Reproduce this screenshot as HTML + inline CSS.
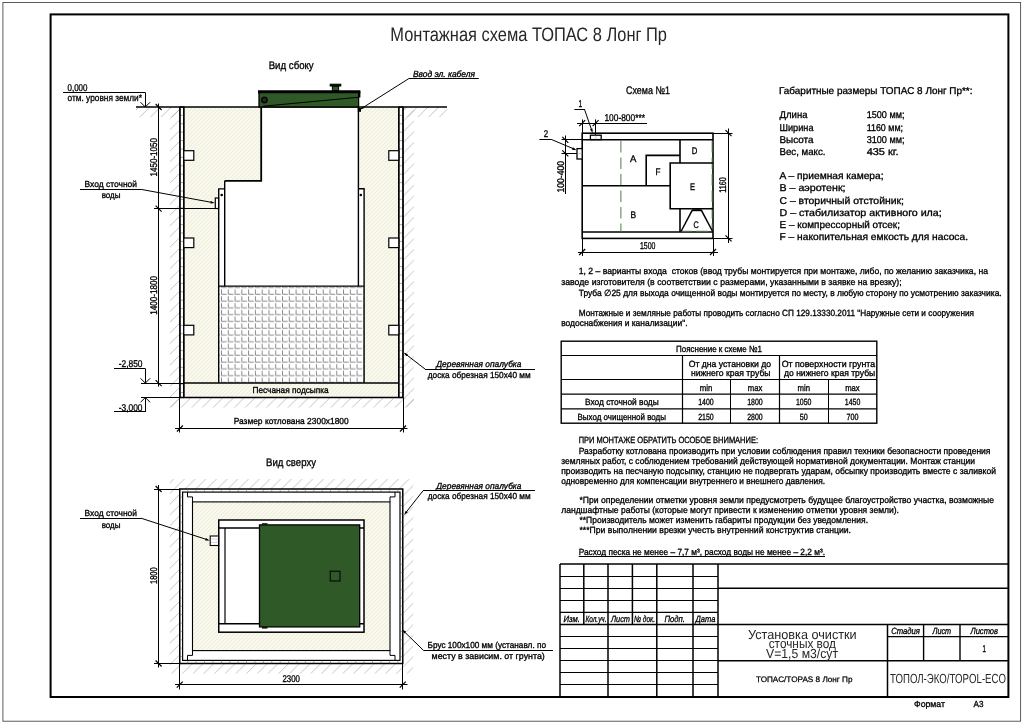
<!DOCTYPE html>
<html lang="ru"><head><meta charset="utf-8"><title>Монтажная схема ТОПАС 8 Лонг Пр</title>
<style>
html,body{margin:0;padding:0;background:#fff;}
body{width:1024px;height:723px;overflow:hidden;}
svg{display:block;font-family:'Liberation Sans', sans-serif;text-rendering:geometricPrecision;will-change:transform;}
text{stroke:#000;stroke-width:0.32px;}
text.lt{stroke:none;}
text.md{stroke-width:0.25px;}
</style></head><body>
<svg width="1024" height="723" viewBox="0 0 1024 723">
<defs>
<pattern id="sand" width="4" height="4" patternUnits="userSpaceOnUse">
<rect width="4" height="4" fill="#fbfaf2"/>
<path d="M-1,1 L1,-1 M0,4 L4,0 M3,5 L5,3" stroke="#f1efda" stroke-width="1.2"/>
</pattern>
<pattern id="ground" width="10.7" height="10.7" patternUnits="userSpaceOnUse">
<path d="M-1,1 L1,-1 M0,10.7 L10.7,0 M9.7,11.7 L11.7,9.7" stroke="#999" stroke-width="0.6"/>
</pattern>
<pattern id="grid" x="221.0" y="289.2" width="6.78" height="6.78" patternUnits="userSpaceOnUse">
<rect width="6.78" height="6.78" fill="#fff"/>
<path d="M0.5,0.3 V5.1 H5.6" stroke="#7c7c7c" stroke-width="0.9" fill="none"/>
</pattern>
</defs>
<rect x="2.90" y="2.50" width="1017.70" height="718.70" stroke="#4a4a4a" stroke-width="0.9" fill="none"/>
<rect x="50.60" y="14.40" width="957.80" height="682.60" stroke="#000" stroke-width="2.0" fill="none"/>
<text xml:space="preserve" x="390.3" y="41.2" font-size="19.5" textLength="276.7" lengthAdjust="spacingAndGlyphs" fill="#262626" class="lt">Монтажная схема ТОПАС 8 Лонг Пр</text>
<rect x="136" y="107.0" width="43.900000000000006" height="10" fill="url(#ground)"/>
<rect x="403.0" y="107.0" width="44.0" height="10" fill="url(#ground)"/>
<rect x="169.9" y="107.0" width="10" height="300.5" fill="url(#ground)"/>
<rect x="403.0" y="107.0" width="11" height="300.5" fill="url(#ground)"/>
<rect x="169.9" y="397.5" width="244.1" height="10" fill="url(#ground)"/>
<path d="M183.80,107.00 L261.20,107.00 L261.20,180.50 L224.50,180.50 L224.50,188.70 L218.50,188.70 L218.50,383.10 L364.10,383.10 L364.10,188.70 L358.40,188.70 L358.40,107.00 L398.80,107.00 L398.80,397.50 L183.80,397.50 Z" stroke="none" stroke-width="0" fill="url(#sand)" stroke-linejoin="miter"/>
<rect x="218.7" y="286.2" width="145.0" height="96.90000000000003" fill="url(#grid)"/>
<rect x="179.90" y="107.00" width="3.90" height="290.50" stroke="#000" stroke-width="1.2" fill="#fff"/>
<line x1="179.90" y1="115.40" x2="183.80" y2="115.40" stroke="#444" stroke-width="0.45"/>
<line x1="179.90" y1="123.80" x2="183.80" y2="123.80" stroke="#444" stroke-width="0.45"/>
<line x1="179.90" y1="132.20" x2="183.80" y2="132.20" stroke="#444" stroke-width="0.45"/>
<line x1="179.90" y1="140.60" x2="183.80" y2="140.60" stroke="#444" stroke-width="0.45"/>
<line x1="179.90" y1="149.00" x2="183.80" y2="149.00" stroke="#444" stroke-width="0.45"/>
<line x1="179.90" y1="157.40" x2="183.80" y2="157.40" stroke="#444" stroke-width="0.45"/>
<line x1="179.90" y1="165.80" x2="183.80" y2="165.80" stroke="#444" stroke-width="0.45"/>
<line x1="179.90" y1="174.20" x2="183.80" y2="174.20" stroke="#444" stroke-width="0.45"/>
<line x1="179.90" y1="182.60" x2="183.80" y2="182.60" stroke="#444" stroke-width="0.45"/>
<line x1="179.90" y1="191.00" x2="183.80" y2="191.00" stroke="#444" stroke-width="0.45"/>
<line x1="179.90" y1="199.40" x2="183.80" y2="199.40" stroke="#444" stroke-width="0.45"/>
<line x1="179.90" y1="207.80" x2="183.80" y2="207.80" stroke="#444" stroke-width="0.45"/>
<line x1="179.90" y1="216.20" x2="183.80" y2="216.20" stroke="#444" stroke-width="0.45"/>
<line x1="179.90" y1="224.60" x2="183.80" y2="224.60" stroke="#444" stroke-width="0.45"/>
<line x1="179.90" y1="233.00" x2="183.80" y2="233.00" stroke="#444" stroke-width="0.45"/>
<line x1="179.90" y1="241.40" x2="183.80" y2="241.40" stroke="#444" stroke-width="0.45"/>
<line x1="179.90" y1="249.80" x2="183.80" y2="249.80" stroke="#444" stroke-width="0.45"/>
<line x1="179.90" y1="258.20" x2="183.80" y2="258.20" stroke="#444" stroke-width="0.45"/>
<line x1="179.90" y1="266.60" x2="183.80" y2="266.60" stroke="#444" stroke-width="0.45"/>
<line x1="179.90" y1="275.00" x2="183.80" y2="275.00" stroke="#444" stroke-width="0.45"/>
<line x1="179.90" y1="283.40" x2="183.80" y2="283.40" stroke="#444" stroke-width="0.45"/>
<line x1="179.90" y1="291.80" x2="183.80" y2="291.80" stroke="#444" stroke-width="0.45"/>
<line x1="179.90" y1="300.20" x2="183.80" y2="300.20" stroke="#444" stroke-width="0.45"/>
<line x1="179.90" y1="308.60" x2="183.80" y2="308.60" stroke="#444" stroke-width="0.45"/>
<line x1="179.90" y1="317.00" x2="183.80" y2="317.00" stroke="#444" stroke-width="0.45"/>
<line x1="179.90" y1="325.40" x2="183.80" y2="325.40" stroke="#444" stroke-width="0.45"/>
<line x1="179.90" y1="333.80" x2="183.80" y2="333.80" stroke="#444" stroke-width="0.45"/>
<line x1="179.90" y1="342.20" x2="183.80" y2="342.20" stroke="#444" stroke-width="0.45"/>
<line x1="179.90" y1="350.60" x2="183.80" y2="350.60" stroke="#444" stroke-width="0.45"/>
<line x1="179.90" y1="359.00" x2="183.80" y2="359.00" stroke="#444" stroke-width="0.45"/>
<line x1="179.90" y1="367.40" x2="183.80" y2="367.40" stroke="#444" stroke-width="0.45"/>
<line x1="179.90" y1="375.80" x2="183.80" y2="375.80" stroke="#444" stroke-width="0.45"/>
<line x1="179.90" y1="384.20" x2="183.80" y2="384.20" stroke="#444" stroke-width="0.45"/>
<line x1="179.90" y1="392.60" x2="183.80" y2="392.60" stroke="#444" stroke-width="0.45"/>
<rect x="398.80" y="107.00" width="4.20" height="290.50" stroke="#000" stroke-width="1.2" fill="#fff"/>
<line x1="398.80" y1="115.40" x2="403.00" y2="115.40" stroke="#444" stroke-width="0.45"/>
<line x1="398.80" y1="123.80" x2="403.00" y2="123.80" stroke="#444" stroke-width="0.45"/>
<line x1="398.80" y1="132.20" x2="403.00" y2="132.20" stroke="#444" stroke-width="0.45"/>
<line x1="398.80" y1="140.60" x2="403.00" y2="140.60" stroke="#444" stroke-width="0.45"/>
<line x1="398.80" y1="149.00" x2="403.00" y2="149.00" stroke="#444" stroke-width="0.45"/>
<line x1="398.80" y1="157.40" x2="403.00" y2="157.40" stroke="#444" stroke-width="0.45"/>
<line x1="398.80" y1="165.80" x2="403.00" y2="165.80" stroke="#444" stroke-width="0.45"/>
<line x1="398.80" y1="174.20" x2="403.00" y2="174.20" stroke="#444" stroke-width="0.45"/>
<line x1="398.80" y1="182.60" x2="403.00" y2="182.60" stroke="#444" stroke-width="0.45"/>
<line x1="398.80" y1="191.00" x2="403.00" y2="191.00" stroke="#444" stroke-width="0.45"/>
<line x1="398.80" y1="199.40" x2="403.00" y2="199.40" stroke="#444" stroke-width="0.45"/>
<line x1="398.80" y1="207.80" x2="403.00" y2="207.80" stroke="#444" stroke-width="0.45"/>
<line x1="398.80" y1="216.20" x2="403.00" y2="216.20" stroke="#444" stroke-width="0.45"/>
<line x1="398.80" y1="224.60" x2="403.00" y2="224.60" stroke="#444" stroke-width="0.45"/>
<line x1="398.80" y1="233.00" x2="403.00" y2="233.00" stroke="#444" stroke-width="0.45"/>
<line x1="398.80" y1="241.40" x2="403.00" y2="241.40" stroke="#444" stroke-width="0.45"/>
<line x1="398.80" y1="249.80" x2="403.00" y2="249.80" stroke="#444" stroke-width="0.45"/>
<line x1="398.80" y1="258.20" x2="403.00" y2="258.20" stroke="#444" stroke-width="0.45"/>
<line x1="398.80" y1="266.60" x2="403.00" y2="266.60" stroke="#444" stroke-width="0.45"/>
<line x1="398.80" y1="275.00" x2="403.00" y2="275.00" stroke="#444" stroke-width="0.45"/>
<line x1="398.80" y1="283.40" x2="403.00" y2="283.40" stroke="#444" stroke-width="0.45"/>
<line x1="398.80" y1="291.80" x2="403.00" y2="291.80" stroke="#444" stroke-width="0.45"/>
<line x1="398.80" y1="300.20" x2="403.00" y2="300.20" stroke="#444" stroke-width="0.45"/>
<line x1="398.80" y1="308.60" x2="403.00" y2="308.60" stroke="#444" stroke-width="0.45"/>
<line x1="398.80" y1="317.00" x2="403.00" y2="317.00" stroke="#444" stroke-width="0.45"/>
<line x1="398.80" y1="325.40" x2="403.00" y2="325.40" stroke="#444" stroke-width="0.45"/>
<line x1="398.80" y1="333.80" x2="403.00" y2="333.80" stroke="#444" stroke-width="0.45"/>
<line x1="398.80" y1="342.20" x2="403.00" y2="342.20" stroke="#444" stroke-width="0.45"/>
<line x1="398.80" y1="350.60" x2="403.00" y2="350.60" stroke="#444" stroke-width="0.45"/>
<line x1="398.80" y1="359.00" x2="403.00" y2="359.00" stroke="#444" stroke-width="0.45"/>
<line x1="398.80" y1="367.40" x2="403.00" y2="367.40" stroke="#444" stroke-width="0.45"/>
<line x1="398.80" y1="375.80" x2="403.00" y2="375.80" stroke="#444" stroke-width="0.45"/>
<line x1="398.80" y1="384.20" x2="403.00" y2="384.20" stroke="#444" stroke-width="0.45"/>
<line x1="398.80" y1="392.60" x2="403.00" y2="392.60" stroke="#444" stroke-width="0.45"/>
<line x1="179.90" y1="107.00" x2="179.90" y2="397.50" stroke="#000" stroke-width="1.4"/>
<line x1="403.00" y1="107.00" x2="403.00" y2="397.50" stroke="#000" stroke-width="1.4"/>
<line x1="183.80" y1="107.00" x2="183.80" y2="397.50" stroke="#000" stroke-width="1.4"/>
<line x1="398.80" y1="107.00" x2="398.80" y2="397.50" stroke="#000" stroke-width="1.4"/>
<line x1="136.00" y1="107.00" x2="447.00" y2="107.00" stroke="#000" stroke-width="1.7"/>
<line x1="183.80" y1="383.10" x2="398.80" y2="383.10" stroke="#000" stroke-width="1.5"/>
<line x1="179.90" y1="397.50" x2="403.00" y2="397.50" stroke="#000" stroke-width="1.5"/>
<rect x="183.80" y="150.70" width="10.00" height="9.60" stroke="#000" stroke-width="1.2" fill="#fff"/>
<rect x="388.80" y="150.70" width="10.00" height="9.60" stroke="#000" stroke-width="1.2" fill="#fff"/>
<rect x="183.80" y="238.00" width="10.00" height="9.60" stroke="#000" stroke-width="1.2" fill="#fff"/>
<rect x="388.80" y="238.00" width="10.00" height="9.60" stroke="#000" stroke-width="1.2" fill="#fff"/>
<rect x="183.80" y="325.30" width="10.00" height="9.60" stroke="#000" stroke-width="1.2" fill="#fff"/>
<rect x="388.80" y="325.30" width="10.00" height="9.60" stroke="#000" stroke-width="1.2" fill="#fff"/>
<path d="M261.20,107.00 L261.20,180.80 L224.70,180.80" stroke="#000" stroke-width="1.8" fill="none" stroke-linejoin="miter"/>
<line x1="224.70" y1="180.80" x2="224.70" y2="286.20" stroke="#000" stroke-width="1.4"/>
<line x1="358.40" y1="107.00" x2="358.40" y2="286.20" stroke="#000" stroke-width="1.4"/>
<path d="M224.70,188.90 L218.70,188.90 L218.70,383.10" stroke="#000" stroke-width="1.4" fill="none" stroke-linejoin="miter"/>
<path d="M358.40,188.70 L364.10,188.70 L364.10,383.10" stroke="#000" stroke-width="1.4" fill="none" stroke-linejoin="miter"/>
<line x1="218.60" y1="286.20" x2="363.90" y2="286.20" stroke="#000" stroke-width="1.3"/>
<line x1="224.50" y1="286.20" x2="224.50" y2="286.20" stroke="#000" stroke-width="1.0"/>
<circle cx="221.7" cy="195" r="1.3" fill="#000"/>
<circle cx="360.8" cy="195" r="1.3" fill="#000"/>
<rect x="215.30" y="198.00" width="3.30" height="10.50" stroke="#000" stroke-width="1.2" fill="#fff"/>
<rect x="259.00" y="91.60" width="99.60" height="15.40" stroke="#000" stroke-width="1.3" fill="#2f5a27"/>
<line x1="258.00" y1="91.70" x2="360.40" y2="91.70" stroke="#000" stroke-width="3.0"/>
<line x1="359.60" y1="91.70" x2="359.60" y2="97.50" stroke="#000" stroke-width="1.6"/>
<line x1="262.50" y1="106.20" x2="358.70" y2="97.20" stroke="#000" stroke-width="1.1"/>
<circle cx="264.4" cy="100" r="3.5" fill="#0a0a0a"/>
<circle cx="264.4" cy="100" r="1.7" fill="#2a2a2a"/>
<rect x="332.40" y="86.00" width="6.20" height="4.60" stroke="#000" stroke-width="1.0" fill="#2f5a27"/>
<rect x="330.20" y="84.20" width="10.60" height="1.80" stroke="#000" stroke-width="1.0" fill="#111"/>
<rect x="357.8" y="108.0" width="3.2" height="3.8" fill="#000"/>
<text xml:space="preserve" x="268.7" y="68.7" font-size="11" textLength="45.0" lengthAdjust="spacingAndGlyphs" fill="#000">Вид сбоку</text>
<text xml:space="preserve" x="413.0" y="76.5" font-size="8.9" textLength="62.0" lengthAdjust="spacingAndGlyphs" fill="#000" font-style="italic">Ввод эл. кабеля</text>
<line x1="408.80" y1="78.50" x2="478.80" y2="78.50" stroke="#000" stroke-width="1.0"/>
<line x1="408.80" y1="78.60" x2="361.00" y2="108.80" stroke="#000" stroke-width="1.0"/>
<polygon points="360.00,109.40 363.11,105.90 364.50,108.10" fill="#000"/>
<text xml:space="preserve" x="67.5" y="90.5" font-size="9.8" textLength="20.0" lengthAdjust="spacingAndGlyphs" fill="#000">0,000</text>
<line x1="63.00" y1="92.50" x2="145.30" y2="92.50" stroke="#000" stroke-width="1.0"/>
<line x1="145.50" y1="92.50" x2="145.50" y2="107.00" stroke="#000" stroke-width="1.0"/>
<line x1="140.50" y1="102.20" x2="145.30" y2="107.00" stroke="#000" stroke-width="1.0"/>
<line x1="150.10" y1="102.20" x2="145.30" y2="107.00" stroke="#000" stroke-width="1.0"/>
<text xml:space="preserve" x="67.5" y="100.5" font-size="9.6" textLength="74.5" lengthAdjust="spacingAndGlyphs" fill="#000">отм. уровня земли*</text>
<text xml:space="preserve" x="84.5" y="187.0" font-size="8.7" textLength="52.5" lengthAdjust="spacingAndGlyphs" fill="#000">Вход сточной</text>
<line x1="80.00" y1="189.50" x2="141.20" y2="189.50" stroke="#000" stroke-width="1.0"/>
<line x1="141.20" y1="189.40" x2="212.80" y2="202.60" stroke="#000" stroke-width="1.0"/>
<polygon points="215.00,203.00 210.34,203.46 210.81,200.91" fill="#000"/>
<text xml:space="preserve" x="101.7" y="197.5" font-size="8.7" textLength="18.8" lengthAdjust="spacingAndGlyphs" fill="#000">воды</text>
<line x1="158.50" y1="103.50" x2="158.50" y2="386.60" stroke="#000" stroke-width="1.0"/>
<line x1="155.60" y1="104.00" x2="161.60" y2="110.00" stroke="#000" stroke-width="1.2"/>
<line x1="155.60" y1="205.60" x2="161.60" y2="211.60" stroke="#000" stroke-width="1.2"/>
<line x1="155.60" y1="380.10" x2="161.60" y2="386.10" stroke="#000" stroke-width="1.2"/>
<line x1="154.00" y1="208.50" x2="215.00" y2="208.50" stroke="#000" stroke-width="1.0"/>
<line x1="141.00" y1="383.50" x2="183.80" y2="383.50" stroke="#000" stroke-width="1.0"/>
<line x1="141.00" y1="397.50" x2="179.90" y2="397.50" stroke="#000" stroke-width="1.0"/>
<text transform="translate(157.0,176.5) rotate(-90)" x="0" y="0" font-size="9.8" textLength="38.5" lengthAdjust="spacingAndGlyphs">1450-1050</text>
<text transform="translate(157.0,314.8) rotate(-90)" x="0" y="0" font-size="9.8" textLength="38.8" lengthAdjust="spacingAndGlyphs">1400-1800</text>
<text xml:space="preserve" x="118.7" y="367.0" font-size="9.8" textLength="23.8" lengthAdjust="spacingAndGlyphs" fill="#000">-2,850</text>
<line x1="114.00" y1="368.50" x2="145.30" y2="368.50" stroke="#000" stroke-width="1.0"/>
<line x1="145.50" y1="368.60" x2="145.50" y2="383.10" stroke="#000" stroke-width="1.0"/>
<line x1="140.50" y1="378.30" x2="145.30" y2="383.10" stroke="#000" stroke-width="1.0"/>
<line x1="150.10" y1="378.30" x2="145.30" y2="383.10" stroke="#000" stroke-width="1.0"/>
<text xml:space="preserve" x="118.7" y="410.7" font-size="9.8" textLength="23.8" lengthAdjust="spacingAndGlyphs" fill="#000">-3,000</text>
<line x1="114.00" y1="411.50" x2="145.30" y2="411.50" stroke="#000" stroke-width="1.0"/>
<line x1="145.50" y1="411.90" x2="145.50" y2="397.50" stroke="#000" stroke-width="1.0"/>
<line x1="140.50" y1="402.30" x2="145.30" y2="397.50" stroke="#000" stroke-width="1.0"/>
<line x1="150.10" y1="402.30" x2="145.30" y2="397.50" stroke="#000" stroke-width="1.0"/>
<line x1="179.50" y1="397.50" x2="179.50" y2="432.50" stroke="#000" stroke-width="1.0"/>
<line x1="403.50" y1="397.50" x2="403.50" y2="432.50" stroke="#000" stroke-width="1.0"/>
<line x1="175.00" y1="428.50" x2="407.50" y2="428.50" stroke="#000" stroke-width="1.0"/>
<line x1="176.90" y1="431.50" x2="182.90" y2="425.50" stroke="#000" stroke-width="1.2"/>
<line x1="400.00" y1="431.50" x2="406.00" y2="425.50" stroke="#000" stroke-width="1.2"/>
<text xml:space="preserve" x="233.7" y="423.8" font-size="8.7" textLength="115.0" lengthAdjust="spacingAndGlyphs" fill="#000">Размер котлована 2300х1800</text>
<text xml:space="preserve" x="252.5" y="393.3" font-size="8.7" textLength="76.2" lengthAdjust="spacingAndGlyphs" fill="#000">Песчаная подсыпка</text>
<line x1="425.00" y1="369.50" x2="535.00" y2="369.50" stroke="#000" stroke-width="1.0"/>
<line x1="425.00" y1="369.00" x2="405.00" y2="353.60" stroke="#000" stroke-width="1.0"/>
<polygon points="403.60,352.50 407.96,354.22 406.37,356.28" fill="#000"/>
<text xml:space="preserve" x="436.2" y="366.9" font-size="8.8" textLength="85.3" lengthAdjust="spacingAndGlyphs" fill="#000" font-style="italic">Деревянная опалубка</text>
<text xml:space="preserve" x="427.8" y="377.8" font-size="8.8" textLength="102.8" lengthAdjust="spacingAndGlyphs" fill="#000">доска обрезная 150х40 мм</text>
<text xml:space="preserve" x="266.0" y="466.0" font-size="11" textLength="50.0" lengthAdjust="spacingAndGlyphs" fill="#000">Вид сверху</text>
<path fill-rule="evenodd" fill="url(#ground)" d="M169.75,479.0 H413.25 V673.5 H169.75 Z M179.75,489.0 V663.5 H402.75 V489.0 Z"/>
<rect x="179.75" y="489.00" width="223.00" height="174.50" stroke="#000" stroke-width="1.5" fill="#fff"/>
<rect x="182.60" y="492.10" width="217.40" height="168.30" stroke="#000" stroke-width="1.2" fill="#fff"/>
<line x1="187.75" y1="489.00" x2="187.75" y2="492.10" stroke="#555" stroke-width="0.5"/>
<line x1="187.75" y1="660.40" x2="187.75" y2="663.50" stroke="#555" stroke-width="0.5"/>
<line x1="196.15" y1="489.00" x2="196.15" y2="492.10" stroke="#555" stroke-width="0.5"/>
<line x1="196.15" y1="660.40" x2="196.15" y2="663.50" stroke="#555" stroke-width="0.5"/>
<line x1="204.55" y1="489.00" x2="204.55" y2="492.10" stroke="#555" stroke-width="0.5"/>
<line x1="204.55" y1="660.40" x2="204.55" y2="663.50" stroke="#555" stroke-width="0.5"/>
<line x1="212.95" y1="489.00" x2="212.95" y2="492.10" stroke="#555" stroke-width="0.5"/>
<line x1="212.95" y1="660.40" x2="212.95" y2="663.50" stroke="#555" stroke-width="0.5"/>
<line x1="221.35" y1="489.00" x2="221.35" y2="492.10" stroke="#555" stroke-width="0.5"/>
<line x1="221.35" y1="660.40" x2="221.35" y2="663.50" stroke="#555" stroke-width="0.5"/>
<line x1="229.75" y1="489.00" x2="229.75" y2="492.10" stroke="#555" stroke-width="0.5"/>
<line x1="229.75" y1="660.40" x2="229.75" y2="663.50" stroke="#555" stroke-width="0.5"/>
<line x1="238.15" y1="489.00" x2="238.15" y2="492.10" stroke="#555" stroke-width="0.5"/>
<line x1="238.15" y1="660.40" x2="238.15" y2="663.50" stroke="#555" stroke-width="0.5"/>
<line x1="246.55" y1="489.00" x2="246.55" y2="492.10" stroke="#555" stroke-width="0.5"/>
<line x1="246.55" y1="660.40" x2="246.55" y2="663.50" stroke="#555" stroke-width="0.5"/>
<line x1="254.95" y1="489.00" x2="254.95" y2="492.10" stroke="#555" stroke-width="0.5"/>
<line x1="254.95" y1="660.40" x2="254.95" y2="663.50" stroke="#555" stroke-width="0.5"/>
<line x1="263.35" y1="489.00" x2="263.35" y2="492.10" stroke="#555" stroke-width="0.5"/>
<line x1="263.35" y1="660.40" x2="263.35" y2="663.50" stroke="#555" stroke-width="0.5"/>
<line x1="271.75" y1="489.00" x2="271.75" y2="492.10" stroke="#555" stroke-width="0.5"/>
<line x1="271.75" y1="660.40" x2="271.75" y2="663.50" stroke="#555" stroke-width="0.5"/>
<line x1="280.15" y1="489.00" x2="280.15" y2="492.10" stroke="#555" stroke-width="0.5"/>
<line x1="280.15" y1="660.40" x2="280.15" y2="663.50" stroke="#555" stroke-width="0.5"/>
<line x1="288.55" y1="489.00" x2="288.55" y2="492.10" stroke="#555" stroke-width="0.5"/>
<line x1="288.55" y1="660.40" x2="288.55" y2="663.50" stroke="#555" stroke-width="0.5"/>
<line x1="296.95" y1="489.00" x2="296.95" y2="492.10" stroke="#555" stroke-width="0.5"/>
<line x1="296.95" y1="660.40" x2="296.95" y2="663.50" stroke="#555" stroke-width="0.5"/>
<line x1="305.35" y1="489.00" x2="305.35" y2="492.10" stroke="#555" stroke-width="0.5"/>
<line x1="305.35" y1="660.40" x2="305.35" y2="663.50" stroke="#555" stroke-width="0.5"/>
<line x1="313.75" y1="489.00" x2="313.75" y2="492.10" stroke="#555" stroke-width="0.5"/>
<line x1="313.75" y1="660.40" x2="313.75" y2="663.50" stroke="#555" stroke-width="0.5"/>
<line x1="322.15" y1="489.00" x2="322.15" y2="492.10" stroke="#555" stroke-width="0.5"/>
<line x1="322.15" y1="660.40" x2="322.15" y2="663.50" stroke="#555" stroke-width="0.5"/>
<line x1="330.55" y1="489.00" x2="330.55" y2="492.10" stroke="#555" stroke-width="0.5"/>
<line x1="330.55" y1="660.40" x2="330.55" y2="663.50" stroke="#555" stroke-width="0.5"/>
<line x1="338.95" y1="489.00" x2="338.95" y2="492.10" stroke="#555" stroke-width="0.5"/>
<line x1="338.95" y1="660.40" x2="338.95" y2="663.50" stroke="#555" stroke-width="0.5"/>
<line x1="347.35" y1="489.00" x2="347.35" y2="492.10" stroke="#555" stroke-width="0.5"/>
<line x1="347.35" y1="660.40" x2="347.35" y2="663.50" stroke="#555" stroke-width="0.5"/>
<line x1="355.75" y1="489.00" x2="355.75" y2="492.10" stroke="#555" stroke-width="0.5"/>
<line x1="355.75" y1="660.40" x2="355.75" y2="663.50" stroke="#555" stroke-width="0.5"/>
<line x1="364.15" y1="489.00" x2="364.15" y2="492.10" stroke="#555" stroke-width="0.5"/>
<line x1="364.15" y1="660.40" x2="364.15" y2="663.50" stroke="#555" stroke-width="0.5"/>
<line x1="372.55" y1="489.00" x2="372.55" y2="492.10" stroke="#555" stroke-width="0.5"/>
<line x1="372.55" y1="660.40" x2="372.55" y2="663.50" stroke="#555" stroke-width="0.5"/>
<line x1="380.95" y1="489.00" x2="380.95" y2="492.10" stroke="#555" stroke-width="0.5"/>
<line x1="380.95" y1="660.40" x2="380.95" y2="663.50" stroke="#555" stroke-width="0.5"/>
<line x1="389.35" y1="489.00" x2="389.35" y2="492.10" stroke="#555" stroke-width="0.5"/>
<line x1="389.35" y1="660.40" x2="389.35" y2="663.50" stroke="#555" stroke-width="0.5"/>
<line x1="397.75" y1="489.00" x2="397.75" y2="492.10" stroke="#555" stroke-width="0.5"/>
<line x1="397.75" y1="660.40" x2="397.75" y2="663.50" stroke="#555" stroke-width="0.5"/>
<line x1="179.75" y1="497.00" x2="182.60" y2="497.00" stroke="#555" stroke-width="0.5"/>
<line x1="400.00" y1="497.00" x2="402.75" y2="497.00" stroke="#555" stroke-width="0.5"/>
<line x1="179.75" y1="505.40" x2="182.60" y2="505.40" stroke="#555" stroke-width="0.5"/>
<line x1="400.00" y1="505.40" x2="402.75" y2="505.40" stroke="#555" stroke-width="0.5"/>
<line x1="179.75" y1="513.80" x2="182.60" y2="513.80" stroke="#555" stroke-width="0.5"/>
<line x1="400.00" y1="513.80" x2="402.75" y2="513.80" stroke="#555" stroke-width="0.5"/>
<line x1="179.75" y1="522.20" x2="182.60" y2="522.20" stroke="#555" stroke-width="0.5"/>
<line x1="400.00" y1="522.20" x2="402.75" y2="522.20" stroke="#555" stroke-width="0.5"/>
<line x1="179.75" y1="530.60" x2="182.60" y2="530.60" stroke="#555" stroke-width="0.5"/>
<line x1="400.00" y1="530.60" x2="402.75" y2="530.60" stroke="#555" stroke-width="0.5"/>
<line x1="179.75" y1="539.00" x2="182.60" y2="539.00" stroke="#555" stroke-width="0.5"/>
<line x1="400.00" y1="539.00" x2="402.75" y2="539.00" stroke="#555" stroke-width="0.5"/>
<line x1="179.75" y1="547.40" x2="182.60" y2="547.40" stroke="#555" stroke-width="0.5"/>
<line x1="400.00" y1="547.40" x2="402.75" y2="547.40" stroke="#555" stroke-width="0.5"/>
<line x1="179.75" y1="555.80" x2="182.60" y2="555.80" stroke="#555" stroke-width="0.5"/>
<line x1="400.00" y1="555.80" x2="402.75" y2="555.80" stroke="#555" stroke-width="0.5"/>
<line x1="179.75" y1="564.20" x2="182.60" y2="564.20" stroke="#555" stroke-width="0.5"/>
<line x1="400.00" y1="564.20" x2="402.75" y2="564.20" stroke="#555" stroke-width="0.5"/>
<line x1="179.75" y1="572.60" x2="182.60" y2="572.60" stroke="#555" stroke-width="0.5"/>
<line x1="400.00" y1="572.60" x2="402.75" y2="572.60" stroke="#555" stroke-width="0.5"/>
<line x1="179.75" y1="581.00" x2="182.60" y2="581.00" stroke="#555" stroke-width="0.5"/>
<line x1="400.00" y1="581.00" x2="402.75" y2="581.00" stroke="#555" stroke-width="0.5"/>
<line x1="179.75" y1="589.40" x2="182.60" y2="589.40" stroke="#555" stroke-width="0.5"/>
<line x1="400.00" y1="589.40" x2="402.75" y2="589.40" stroke="#555" stroke-width="0.5"/>
<line x1="179.75" y1="597.80" x2="182.60" y2="597.80" stroke="#555" stroke-width="0.5"/>
<line x1="400.00" y1="597.80" x2="402.75" y2="597.80" stroke="#555" stroke-width="0.5"/>
<line x1="179.75" y1="606.20" x2="182.60" y2="606.20" stroke="#555" stroke-width="0.5"/>
<line x1="400.00" y1="606.20" x2="402.75" y2="606.20" stroke="#555" stroke-width="0.5"/>
<line x1="179.75" y1="614.60" x2="182.60" y2="614.60" stroke="#555" stroke-width="0.5"/>
<line x1="400.00" y1="614.60" x2="402.75" y2="614.60" stroke="#555" stroke-width="0.5"/>
<line x1="179.75" y1="623.00" x2="182.60" y2="623.00" stroke="#555" stroke-width="0.5"/>
<line x1="400.00" y1="623.00" x2="402.75" y2="623.00" stroke="#555" stroke-width="0.5"/>
<line x1="179.75" y1="631.40" x2="182.60" y2="631.40" stroke="#555" stroke-width="0.5"/>
<line x1="400.00" y1="631.40" x2="402.75" y2="631.40" stroke="#555" stroke-width="0.5"/>
<line x1="179.75" y1="639.80" x2="182.60" y2="639.80" stroke="#555" stroke-width="0.5"/>
<line x1="400.00" y1="639.80" x2="402.75" y2="639.80" stroke="#555" stroke-width="0.5"/>
<line x1="179.75" y1="648.20" x2="182.60" y2="648.20" stroke="#555" stroke-width="0.5"/>
<line x1="400.00" y1="648.20" x2="402.75" y2="648.20" stroke="#555" stroke-width="0.5"/>
<line x1="179.75" y1="656.60" x2="182.60" y2="656.60" stroke="#555" stroke-width="0.5"/>
<line x1="400.00" y1="656.60" x2="402.75" y2="656.60" stroke="#555" stroke-width="0.5"/>
<rect x="192.50" y="501.90" width="197.50" height="148.70" stroke="#000" stroke-width="1.1" fill="url(#sand)"/>
<path d="M187.50,492.10 L187.50,496.90 L192.50,496.90 L192.50,501.90" stroke="#000" stroke-width="1.0" fill="none" stroke-linejoin="miter"/>
<path d="M395.00,492.10 L395.00,496.90 L390.00,496.90 L390.00,501.90" stroke="#000" stroke-width="1.0" fill="none" stroke-linejoin="miter"/>
<path d="M187.50,660.40 L187.50,655.40 L192.50,655.40 L192.50,650.60" stroke="#000" stroke-width="1.0" fill="none" stroke-linejoin="miter"/>
<path d="M395.00,660.40 L395.00,655.40 L390.00,655.40 L390.00,650.60" stroke="#000" stroke-width="1.0" fill="none" stroke-linejoin="miter"/>
<rect x="218.75" y="520.00" width="145.25" height="112.20" stroke="#000" stroke-width="1.5" fill="#fff"/>
<line x1="218.75" y1="528.00" x2="364.00" y2="528.00" stroke="#000" stroke-width="1.4"/>
<line x1="218.75" y1="623.80" x2="364.00" y2="623.80" stroke="#000" stroke-width="1.4"/>
<line x1="225.00" y1="528.00" x2="225.00" y2="623.80" stroke="#000" stroke-width="1.2"/>
<rect x="259.50" y="524.90" width="100.20" height="102.00" stroke="#000" stroke-width="1.3" fill="#2f5a27"/>
<rect x="262" y="523.2" width="5.5" height="1.6" fill="#111"/>
<rect x="262" y="627" width="5.5" height="1.6" fill="#111"/>
<rect x="330.20" y="571.20" width="9.80" height="9.80" stroke="#000" stroke-width="1.0" fill="none"/>
<rect x="210.20" y="536.00" width="8.40" height="9.50" stroke="#000" stroke-width="1.1" fill="#fff"/>
<line x1="211.00" y1="539.00" x2="218.00" y2="539.00" stroke="#aaa" stroke-width="0.5"/>
<line x1="211.00" y1="542.40" x2="218.00" y2="542.40" stroke="#aaa" stroke-width="0.5"/>
<text xml:space="preserve" x="84.5" y="516.0" font-size="8.7" textLength="52.5" lengthAdjust="spacingAndGlyphs" fill="#000">Вход сточной</text>
<line x1="80.00" y1="518.50" x2="141.00" y2="518.50" stroke="#000" stroke-width="1.0"/>
<line x1="141.00" y1="518.20" x2="207.80" y2="539.90" stroke="#000" stroke-width="1.0"/>
<polygon points="209.80,540.60 205.12,540.44 205.92,537.97" fill="#000"/>
<text xml:space="preserve" x="101.7" y="527.5" font-size="8.7" textLength="18.8" lengthAdjust="spacingAndGlyphs" fill="#000">воды</text>
<line x1="158.50" y1="485.00" x2="158.50" y2="667.50" stroke="#000" stroke-width="1.0"/>
<line x1="154.00" y1="489.50" x2="179.75" y2="489.50" stroke="#000" stroke-width="1.0"/>
<line x1="154.00" y1="663.50" x2="179.75" y2="663.50" stroke="#000" stroke-width="1.0"/>
<line x1="155.60" y1="486.00" x2="161.60" y2="492.00" stroke="#000" stroke-width="1.2"/>
<line x1="155.60" y1="660.50" x2="161.60" y2="666.50" stroke="#000" stroke-width="1.2"/>
<text transform="translate(156.5,584.0) rotate(-90)" x="0" y="0" font-size="9.8" textLength="16.7" lengthAdjust="spacingAndGlyphs">1800</text>
<line x1="179.50" y1="663.50" x2="179.50" y2="689.50" stroke="#000" stroke-width="1.0"/>
<line x1="402.50" y1="663.50" x2="402.50" y2="689.50" stroke="#000" stroke-width="1.0"/>
<line x1="175.00" y1="684.50" x2="407.50" y2="684.50" stroke="#000" stroke-width="1.0"/>
<line x1="176.75" y1="687.70" x2="182.75" y2="681.70" stroke="#000" stroke-width="1.2"/>
<line x1="399.75" y1="687.70" x2="405.75" y2="681.70" stroke="#000" stroke-width="1.2"/>
<text xml:space="preserve" x="282.5" y="682.0" font-size="9.8" textLength="17.5" lengthAdjust="spacingAndGlyphs" fill="#000">2300</text>
<line x1="423.00" y1="490.50" x2="535.00" y2="490.50" stroke="#000" stroke-width="1.0"/>
<line x1="423.00" y1="490.80" x2="405.50" y2="513.00" stroke="#000" stroke-width="1.0"/>
<polygon points="404.00,515.00 405.76,510.66 407.80,512.26" fill="#000"/>
<text xml:space="preserve" x="436.2" y="488.6" font-size="8.8" textLength="85.3" lengthAdjust="spacingAndGlyphs" fill="#000" font-style="italic">Деревянная опалубка</text>
<text xml:space="preserve" x="427.8" y="499.4" font-size="8.8" textLength="102.8" lengthAdjust="spacingAndGlyphs" fill="#000">доска обрезная 150х40 мм</text>
<line x1="423.70" y1="650.50" x2="553.00" y2="650.50" stroke="#000" stroke-width="1.0"/>
<line x1="423.70" y1="650.60" x2="404.00" y2="631.40" stroke="#000" stroke-width="1.0"/>
<polygon points="402.00,629.40 406.13,631.61 404.31,633.47" fill="#000"/>
<text xml:space="preserve" x="427.5" y="648.2" font-size="8.8" textLength="118.5" lengthAdjust="spacingAndGlyphs" fill="#000">Брус 100х100 мм (устанавл. по</text>
<text xml:space="preserve" x="431.6" y="659.2" font-size="8.8" textLength="113.2" lengthAdjust="spacingAndGlyphs" fill="#000">месту в зависим. от грунта)</text>
<text xml:space="preserve" x="626.0" y="94.2" font-size="11" textLength="44.0" lengthAdjust="spacingAndGlyphs" fill="#000">Схема №1</text>
<rect x="582.20" y="133.20" width="130.80" height="105.20" stroke="#000" stroke-width="1.6" fill="#fff"/>
<line x1="582.20" y1="139.80" x2="713.00" y2="139.80" stroke="#000" stroke-width="1.6"/>
<line x1="582.20" y1="232.00" x2="713.00" y2="232.00" stroke="#000" stroke-width="1.6"/>
<line x1="620.90" y1="141.00" x2="620.90" y2="231.50" stroke="#5f8a58" stroke-width="1.1" stroke-dasharray="11.5 5"/>
<line x1="712.00" y1="141.00" x2="712.00" y2="231.50" stroke="#5f8a58" stroke-width="0.8" stroke-dasharray="11.5 5"/>
<line x1="680.00" y1="231.20" x2="712.50" y2="231.20" stroke="#5f8a58" stroke-width="0.8" stroke-dasharray="11.5 5"/>
<line x1="582.20" y1="185.80" x2="670.20" y2="185.80" stroke="#000" stroke-width="1.6"/>
<path d="M646.20,185.80 L646.20,155.40 L680.00,155.40" stroke="#000" stroke-width="1.6" fill="none" stroke-linejoin="miter"/>
<line x1="680.00" y1="139.80" x2="680.00" y2="163.00" stroke="#000" stroke-width="1.6"/>
<path d="M713.00,163.00 L670.20,163.00 L670.20,208.80 L713.00,208.80" stroke="#000" stroke-width="1.6" fill="none" stroke-linejoin="miter"/>
<line x1="680.00" y1="208.80" x2="680.00" y2="232.00" stroke="#000" stroke-width="1.6"/>
<path d="M681.00,231.50 L692.30,210.20" stroke="#000" stroke-width="1.5" fill="none" stroke-linejoin="miter"/>
<path d="M712.60,231.50 L701.30,210.20" stroke="#000" stroke-width="1.5" fill="none" stroke-linejoin="miter"/>
<line x1="692.00" y1="210.20" x2="701.60" y2="210.20" stroke="#000" stroke-width="2.0"/>
<rect x="590.40" y="135.20" width="10.80" height="4.40" stroke="#000" stroke-width="1.3" fill="#fff"/>
<line x1="595.80" y1="135.20" x2="595.80" y2="139.60" stroke="#888" stroke-width="0.4"/>
<rect x="577.00" y="148.60" width="5.20" height="10.40" stroke="#000" stroke-width="1.3" fill="#fff"/>
<line x1="577.00" y1="153.60" x2="582.20" y2="153.60" stroke="#888" stroke-width="0.4"/>
<text xml:space="preserve" x="630.0" y="161.5" font-size="9.5" textLength="6.4" lengthAdjust="spacingAndGlyphs" fill="#000">A</text>
<text xml:space="preserve" x="630.4" y="217.5" font-size="9.5" textLength="5.6" lengthAdjust="spacingAndGlyphs" fill="#000">B</text>
<text xml:space="preserve" x="655.5" y="175.0" font-size="9.5" textLength="5.0" lengthAdjust="spacingAndGlyphs" fill="#000">F</text>
<text xml:space="preserve" x="691.7" y="154.2" font-size="9.5" textLength="5.6" lengthAdjust="spacingAndGlyphs" fill="#000">D</text>
<text xml:space="preserve" x="690.0" y="190.2" font-size="9.5" textLength="5.0" lengthAdjust="spacingAndGlyphs" fill="#000">E</text>
<text xml:space="preserve" x="693.4" y="227.5" font-size="9.5" textLength="5.2" lengthAdjust="spacingAndGlyphs" fill="#000">C</text>
<line x1="577.00" y1="123.50" x2="647.00" y2="123.50" stroke="#000" stroke-width="1.0"/>
<line x1="582.50" y1="119.40" x2="582.50" y2="133.00" stroke="#000" stroke-width="1.0"/>
<line x1="595.50" y1="119.40" x2="595.50" y2="135.00" stroke="#000" stroke-width="1.0"/>
<line x1="579.20" y1="126.10" x2="585.20" y2="120.10" stroke="#000" stroke-width="1.2"/>
<line x1="592.60" y1="126.10" x2="598.60" y2="120.10" stroke="#000" stroke-width="1.2"/>
<text xml:space="preserve" x="604.4" y="120.6" font-size="9.8" textLength="40.6" lengthAdjust="spacingAndGlyphs" fill="#000">100-800***</text>
<text xml:space="preserve" x="578.6" y="107.1" font-size="9.8" textLength="3.6" lengthAdjust="spacingAndGlyphs" fill="#000">1</text>
<line x1="574.40" y1="109.50" x2="584.40" y2="109.50" stroke="#000" stroke-width="1.0"/>
<line x1="584.40" y1="109.10" x2="592.00" y2="131.00" stroke="#000" stroke-width="1.0"/>
<polygon points="592.70,133.20 590.01,129.37 592.46,128.52" fill="#000"/>
<text xml:space="preserve" x="543.8" y="137.3" font-size="9.8" textLength="4.4" lengthAdjust="spacingAndGlyphs" fill="#000">2</text>
<line x1="539.40" y1="139.50" x2="551.20" y2="139.50" stroke="#000" stroke-width="1.0"/>
<line x1="551.20" y1="139.40" x2="575.00" y2="149.40" stroke="#000" stroke-width="1.0"/>
<polygon points="576.60,150.20 571.95,149.64 572.97,147.24" fill="#000"/>
<line x1="565.50" y1="135.50" x2="565.50" y2="194.00" stroke="#000" stroke-width="1.0"/>
<line x1="561.50" y1="139.50" x2="582.00" y2="139.50" stroke="#000" stroke-width="1.0"/>
<line x1="561.50" y1="153.50" x2="577.00" y2="153.50" stroke="#000" stroke-width="1.0"/>
<line x1="562.30" y1="136.80" x2="568.30" y2="142.80" stroke="#000" stroke-width="1.2"/>
<line x1="562.30" y1="150.40" x2="568.30" y2="156.40" stroke="#000" stroke-width="1.2"/>
<text transform="translate(563.8,192.5) rotate(-90)" x="0" y="0" font-size="9.8" textLength="31.5" lengthAdjust="spacingAndGlyphs">100-400</text>
<line x1="728.50" y1="128.50" x2="728.50" y2="243.00" stroke="#000" stroke-width="1.0"/>
<line x1="713.00" y1="133.50" x2="732.50" y2="133.50" stroke="#000" stroke-width="1.0"/>
<line x1="713.00" y1="238.50" x2="732.50" y2="238.50" stroke="#000" stroke-width="1.0"/>
<line x1="725.50" y1="130.20" x2="731.50" y2="136.20" stroke="#000" stroke-width="1.2"/>
<line x1="725.50" y1="235.40" x2="731.50" y2="241.40" stroke="#000" stroke-width="1.2"/>
<text transform="translate(726.4,192.8) rotate(-90)" x="0" y="0" font-size="9.8" textLength="15.5" lengthAdjust="spacingAndGlyphs">1160</text>
<line x1="582.50" y1="238.40" x2="582.50" y2="256.00" stroke="#000" stroke-width="1.0"/>
<line x1="713.50" y1="238.40" x2="713.50" y2="256.00" stroke="#000" stroke-width="1.0"/>
<line x1="578.00" y1="252.50" x2="718.00" y2="252.50" stroke="#000" stroke-width="1.0"/>
<line x1="579.20" y1="255.00" x2="585.20" y2="249.00" stroke="#000" stroke-width="1.2"/>
<line x1="710.00" y1="255.00" x2="716.00" y2="249.00" stroke="#000" stroke-width="1.2"/>
<text xml:space="preserve" x="640.0" y="249.0" font-size="9.8" textLength="15.5" lengthAdjust="spacingAndGlyphs" fill="#000">1500</text>
<text xml:space="preserve" x="779.0" y="94.2" font-size="9.9" textLength="193.5" lengthAdjust="spacingAndGlyphs" fill="#000">Габаритные размеры ТОПАС 8 Лонг Пр**:</text>
<text xml:space="preserve" x="779.5" y="118.0" font-size="9.9" textLength="28.0" lengthAdjust="spacingAndGlyphs" fill="#000">Длина</text>
<text xml:space="preserve" x="866.7" y="118.0" font-size="9.9" textLength="37.8" lengthAdjust="spacingAndGlyphs" fill="#000">1500 мм;</text>
<text xml:space="preserve" x="779.5" y="130.6" font-size="9.9" textLength="34.0" lengthAdjust="spacingAndGlyphs" fill="#000">Ширина</text>
<text xml:space="preserve" x="866.7" y="130.6" font-size="9.9" textLength="36.3" lengthAdjust="spacingAndGlyphs" fill="#000">1160 мм;</text>
<text xml:space="preserve" x="779.5" y="142.5" font-size="9.9" textLength="34.0" lengthAdjust="spacingAndGlyphs" fill="#000">Высота</text>
<text xml:space="preserve" x="866.7" y="142.5" font-size="9.9" textLength="37.8" lengthAdjust="spacingAndGlyphs" fill="#000">3100 мм;</text>
<text xml:space="preserve" x="779.5" y="154.5" font-size="9.9" textLength="46.0" lengthAdjust="spacingAndGlyphs" fill="#000">Вес, макс.</text>
<text xml:space="preserve" x="866.7" y="154.5" font-size="9.9" textLength="31.8" lengthAdjust="spacingAndGlyphs" fill="#000">435 кг.</text>
<text xml:space="preserve" x="779.5" y="179.0" font-size="9.9" textLength="104.0" lengthAdjust="spacingAndGlyphs" fill="#000">A – приемная камера;</text>
<text xml:space="preserve" x="779.5" y="191.2" font-size="9.9" textLength="66.0" lengthAdjust="spacingAndGlyphs" fill="#000">B – аэротенк;</text>
<text xml:space="preserve" x="779.5" y="203.6" font-size="9.9" textLength="124.5" lengthAdjust="spacingAndGlyphs" fill="#000">C – вторичный отстойник;</text>
<text xml:space="preserve" x="779.5" y="215.8" font-size="9.9" textLength="162.2" lengthAdjust="spacingAndGlyphs" fill="#000">D – стабилизатор активного ила;</text>
<text xml:space="preserve" x="779.5" y="228.0" font-size="9.9" textLength="120.5" lengthAdjust="spacingAndGlyphs" fill="#000">E – компрессорный отсек;</text>
<text xml:space="preserve" x="779.5" y="240.2" font-size="9.9" textLength="188.5" lengthAdjust="spacingAndGlyphs" fill="#000">F – накопительная емкость для насоса.</text>
<text xml:space="preserve" x="578.7" y="274.2" font-size="9.0" textLength="409.3" lengthAdjust="spacingAndGlyphs" fill="#000">1, 2 – варианты входа  стоков (ввод трубы монтируется при монтаже, либо, по желанию заказчика, на</text>
<text xml:space="preserve" x="561.2" y="285.0" font-size="9.0" textLength="340.5" lengthAdjust="spacingAndGlyphs" fill="#000">заводе изготовителя (в соответствии с размерами, указанными в заявке на врезку);</text>
<text xml:space="preserve" x="578.7" y="295.5" font-size="9.0" textLength="423.0" lengthAdjust="spacingAndGlyphs" fill="#000">Труба ∅25 для выхода очищенной воды монтируется по месту, в любую сторону по усмотрению заказчика.</text>
<text xml:space="preserve" x="578.7" y="316.2" font-size="9.0" textLength="395.3" lengthAdjust="spacingAndGlyphs" fill="#000">Монтажные и земляные работы проводить согласно СП 129.13330.2011 "Наружные сети и сооружения</text>
<text xml:space="preserve" x="561.2" y="326.4" font-size="9.0" textLength="126.3" lengthAdjust="spacingAndGlyphs" fill="#000">водоснабжения и канализации".</text>
<rect x="561.20" y="341.20" width="315.60" height="82.00" stroke="#000" stroke-width="1.4" fill="#fff"/>
<line x1="561.20" y1="355.50" x2="876.80" y2="355.50" stroke="#000" stroke-width="1.2"/>
<line x1="561.20" y1="379.50" x2="876.80" y2="379.50" stroke="#000" stroke-width="1.2"/>
<line x1="561.20" y1="394.20" x2="876.80" y2="394.20" stroke="#000" stroke-width="1.2"/>
<line x1="561.20" y1="408.80" x2="876.80" y2="408.80" stroke="#000" stroke-width="1.2"/>
<line x1="682.50" y1="355.50" x2="682.50" y2="423.20" stroke="#000" stroke-width="1.2"/>
<line x1="779.50" y1="355.50" x2="779.50" y2="423.20" stroke="#000" stroke-width="1.2"/>
<line x1="730.50" y1="379.50" x2="730.50" y2="423.20" stroke="#000" stroke-width="1.0"/>
<line x1="828.50" y1="379.50" x2="828.50" y2="423.20" stroke="#000" stroke-width="1.0"/>
<text xml:space="preserve" x="676.0" y="352.0" font-size="9.0" textLength="86.0" lengthAdjust="spacingAndGlyphs" fill="#000">Пояснение к схеме №1</text>
<text xml:space="preserve" x="688.7" y="367.0" font-size="9.0" textLength="82.3" lengthAdjust="spacingAndGlyphs" fill="#000">От дна установки до</text>
<text xml:space="preserve" x="691.0" y="375.8" font-size="9.0" textLength="79.5" lengthAdjust="spacingAndGlyphs" fill="#000">нижнего края трубы</text>
<text xml:space="preserve" x="781.7" y="367.0" font-size="9.0" textLength="93.5" lengthAdjust="spacingAndGlyphs" fill="#000">От поверхности грунта</text>
<text xml:space="preserve" x="784.0" y="375.8" font-size="9.0" textLength="91.2" lengthAdjust="spacingAndGlyphs" fill="#000">до нижнего края трубы</text>
<text xml:space="preserve" x="699.8" y="390.5" font-size="9.0" textLength="12.5" lengthAdjust="spacingAndGlyphs" fill="#000">min</text>
<text xml:space="preserve" x="797.5" y="390.5" font-size="9.0" textLength="12.5" lengthAdjust="spacingAndGlyphs" fill="#000">min</text>
<text xml:space="preserve" x="747.8" y="390.5" font-size="9.0" textLength="14.5" lengthAdjust="spacingAndGlyphs" fill="#000">max</text>
<text xml:space="preserve" x="845.2" y="390.5" font-size="9.0" textLength="14.5" lengthAdjust="spacingAndGlyphs" fill="#000">max</text>
<text xml:space="preserve" x="585.0" y="405.0" font-size="9.0" textLength="73.7" lengthAdjust="spacingAndGlyphs" fill="#000">Вход сточной воды</text>
<text xml:space="preserve" x="577.5" y="419.5" font-size="9.0" textLength="88.5" lengthAdjust="spacingAndGlyphs" fill="#000">Выход очищенной воды</text>
<text xml:space="preserve" x="698.2" y="405.0" font-size="9.0" textLength="15.5" lengthAdjust="spacingAndGlyphs" fill="#000">1400</text>
<text xml:space="preserve" x="698.2" y="419.5" font-size="9.0" textLength="15.5" lengthAdjust="spacingAndGlyphs" fill="#000">2150</text>
<text xml:space="preserve" x="747.2" y="405.0" font-size="9.0" textLength="15.5" lengthAdjust="spacingAndGlyphs" fill="#000">1800</text>
<text xml:space="preserve" x="747.2" y="419.5" font-size="9.0" textLength="15.5" lengthAdjust="spacingAndGlyphs" fill="#000">2800</text>
<text xml:space="preserve" x="796.0" y="405.0" font-size="9.0" textLength="15.5" lengthAdjust="spacingAndGlyphs" fill="#000">1050</text>
<text xml:space="preserve" x="799.8" y="419.5" font-size="9.0" textLength="8.0" lengthAdjust="spacingAndGlyphs" fill="#000">50</text>
<text xml:space="preserve" x="844.8" y="405.0" font-size="9.0" textLength="15.5" lengthAdjust="spacingAndGlyphs" fill="#000">1450</text>
<text xml:space="preserve" x="846.5" y="419.5" font-size="9.0" textLength="12.0" lengthAdjust="spacingAndGlyphs" fill="#000">700</text>
<text xml:space="preserve" x="578.7" y="443.0" font-size="9.0" textLength="179.3" lengthAdjust="spacingAndGlyphs" fill="#000">ПРИ МОНТАЖЕ ОБРАТИТЬ ОСОБОЕ ВНИМАНИЕ:</text>
<text xml:space="preserve" x="578.7" y="453.7" font-size="9.0" textLength="411.8" lengthAdjust="spacingAndGlyphs" fill="#000">Разработку котлована производить при условии соблюдения правил техники безопасности проведения</text>
<text xml:space="preserve" x="561.2" y="463.8" font-size="9.0" textLength="413.8" lengthAdjust="spacingAndGlyphs" fill="#000">земляных работ, с соблюдением требований действующей нормативной документации. Монтаж станции</text>
<text xml:space="preserve" x="561.2" y="473.9" font-size="9.0" textLength="434.8" lengthAdjust="spacingAndGlyphs" fill="#000">производить на песчаную подсыпку, станцию не подвергать ударам, обсыпку производить вместе с заливкой</text>
<text xml:space="preserve" x="561.2" y="484.2" font-size="9.0" textLength="263.8" lengthAdjust="spacingAndGlyphs" fill="#000">одновременно для компенсации внутреннего и внешнего давления.</text>
<text xml:space="preserve" x="579.5" y="502.5" font-size="9.0" textLength="414.5" lengthAdjust="spacingAndGlyphs" fill="#000">*При определении отметки уровня земли предусмотреть будущее благоустройство участка, возможные</text>
<text xml:space="preserve" x="561.2" y="512.6" font-size="9.0" textLength="337.8" lengthAdjust="spacingAndGlyphs" fill="#000">ландшафтные работы (которые могут привести к изменению отметки уровня земли).</text>
<text xml:space="preserve" x="579.5" y="523.0" font-size="9.0" textLength="288.5" lengthAdjust="spacingAndGlyphs" fill="#000">**Производитель может изменить габариты продукции без уведомления.</text>
<text xml:space="preserve" x="579.5" y="533.0" font-size="9.0" textLength="271.5" lengthAdjust="spacingAndGlyphs" fill="#000">***При выполнении врезки учесть внутренний конструктив станции.</text>
<text xml:space="preserve" x="578.7" y="555.0" font-size="9.0" textLength="246.3" lengthAdjust="spacingAndGlyphs" fill="#000">Расход песка не менее – 7,7 м³, расход воды не менее – 2,2 м³.</text>
<line x1="578.70" y1="556.50" x2="825.00" y2="556.50" stroke="#000" stroke-width="1.0"/>
<line x1="560.00" y1="564.00" x2="1008.40" y2="564.00" stroke="#000" stroke-width="1.5"/>
<line x1="560.00" y1="564.00" x2="560.00" y2="697.00" stroke="#000" stroke-width="1.5"/>
<line x1="583.80" y1="564.00" x2="583.80" y2="624.45" stroke="#000" stroke-width="1.5"/>
<line x1="608.00" y1="564.00" x2="608.00" y2="697.00" stroke="#000" stroke-width="1.5"/>
<line x1="632.40" y1="564.00" x2="632.40" y2="624.45" stroke="#000" stroke-width="1.5"/>
<line x1="656.80" y1="564.00" x2="656.80" y2="697.00" stroke="#000" stroke-width="1.5"/>
<line x1="693.00" y1="564.00" x2="693.00" y2="697.00" stroke="#000" stroke-width="1.5"/>
<line x1="718.00" y1="564.00" x2="718.00" y2="697.00" stroke="#000" stroke-width="1.5"/>
<line x1="560.00" y1="576.50" x2="718.00" y2="576.50" stroke="#000" stroke-width="1.0"/>
<line x1="560.00" y1="588.50" x2="718.00" y2="588.50" stroke="#000" stroke-width="1.0"/>
<line x1="560.00" y1="600.50" x2="718.00" y2="600.50" stroke="#000" stroke-width="1.0"/>
<line x1="560.00" y1="612.36" x2="718.00" y2="612.36" stroke="#000" stroke-width="1.4"/>
<line x1="560.00" y1="624.45" x2="718.00" y2="624.45" stroke="#000" stroke-width="1.4"/>
<line x1="560.00" y1="636.50" x2="718.00" y2="636.50" stroke="#000" stroke-width="1.0"/>
<line x1="560.00" y1="648.50" x2="718.00" y2="648.50" stroke="#000" stroke-width="1.0"/>
<line x1="560.00" y1="660.50" x2="718.00" y2="660.50" stroke="#000" stroke-width="1.0"/>
<line x1="560.00" y1="672.50" x2="718.00" y2="672.50" stroke="#000" stroke-width="1.0"/>
<line x1="560.00" y1="684.50" x2="718.00" y2="684.50" stroke="#000" stroke-width="1.0"/>
<line x1="718.00" y1="588.18" x2="1008.40" y2="588.18" stroke="#000" stroke-width="1.5"/>
<line x1="718.00" y1="624.45" x2="1008.40" y2="624.45" stroke="#000" stroke-width="1.5"/>
<line x1="718.00" y1="660.72" x2="1008.40" y2="660.72" stroke="#000" stroke-width="1.5"/>
<line x1="887.50" y1="624.45" x2="887.50" y2="697.00" stroke="#000" stroke-width="1.5"/>
<line x1="923.60" y1="624.45" x2="923.60" y2="660.72" stroke="#000" stroke-width="1.4"/>
<line x1="960.00" y1="624.45" x2="960.00" y2="660.72" stroke="#000" stroke-width="1.4"/>
<line x1="887.50" y1="636.54" x2="1008.40" y2="636.54" stroke="#000" stroke-width="1.2"/>
<text xml:space="preserve" x="563.5" y="622.2" font-size="9.0" textLength="16.5" lengthAdjust="spacingAndGlyphs" fill="#000" font-style="italic">Изм.</text>
<text xml:space="preserve" x="585.5" y="622.2" font-size="9.0" textLength="21.0" lengthAdjust="spacingAndGlyphs" fill="#000" font-style="italic">Кол.уч.</text>
<text xml:space="preserve" x="611.0" y="622.2" font-size="9.0" textLength="19.0" lengthAdjust="spacingAndGlyphs" fill="#000" font-style="italic">Лист</text>
<text xml:space="preserve" x="634.0" y="622.2" font-size="9.0" textLength="21.0" lengthAdjust="spacingAndGlyphs" fill="#000" font-style="italic">№ док.</text>
<text xml:space="preserve" x="664.5" y="622.2" font-size="9.0" textLength="20.5" lengthAdjust="spacingAndGlyphs" fill="#000" font-style="italic">Подп.</text>
<text xml:space="preserve" x="695.5" y="622.2" font-size="9.0" textLength="20.0" lengthAdjust="spacingAndGlyphs" fill="#000" font-style="italic">Дата</text>
<text xml:space="preserve" x="891.2" y="633.6" font-size="9.0" textLength="28.8" lengthAdjust="spacingAndGlyphs" fill="#000" font-style="italic">Стадия</text>
<text xml:space="preserve" x="932.5" y="633.6" font-size="9.0" textLength="18.5" lengthAdjust="spacingAndGlyphs" fill="#000" font-style="italic">Лист</text>
<text xml:space="preserve" x="970.5" y="633.6" font-size="9.0" textLength="27.5" lengthAdjust="spacingAndGlyphs" fill="#000" font-style="italic">Листов</text>
<text xml:space="preserve" x="982.6" y="652.2" font-size="9.8" textLength="3.4" lengthAdjust="spacingAndGlyphs" fill="#000">1</text>
<text xml:space="preserve" x="748.0" y="639.0" font-size="13.2" textLength="108.7" lengthAdjust="spacingAndGlyphs" fill="#262626" class="lt">Установка очистки</text>
<text xml:space="preserve" x="768.7" y="648.4" font-size="13.2" textLength="67.3" lengthAdjust="spacingAndGlyphs" fill="#262626" class="lt">сточных вод</text>
<text xml:space="preserve" x="766.0" y="658.3" font-size="13.2" textLength="72.0" lengthAdjust="spacingAndGlyphs" fill="#262626" class="lt">V=1,5 м3/сут</text>
<text xml:space="preserve" x="756.0" y="682.0" font-size="8.0" textLength="96.5" lengthAdjust="spacingAndGlyphs" fill="#000" class="md">ТОПАС/TOPAS 8 Лонг Пр</text>
<text xml:space="preserve" x="890.0" y="683.2" font-size="13.2" textLength="116.0" lengthAdjust="spacingAndGlyphs" fill="#262626" class="lt">ТОПОЛ-ЭКО/TOPOL-ECO</text>
<text xml:space="preserve" x="914.0" y="706.5" font-size="8.8" textLength="31.0" lengthAdjust="spacingAndGlyphs" fill="#000">Формат</text>
<text xml:space="preserve" x="973.5" y="706.5" font-size="8.8" textLength="10.0" lengthAdjust="spacingAndGlyphs" fill="#000">А3</text>
</svg>
</body></html>
